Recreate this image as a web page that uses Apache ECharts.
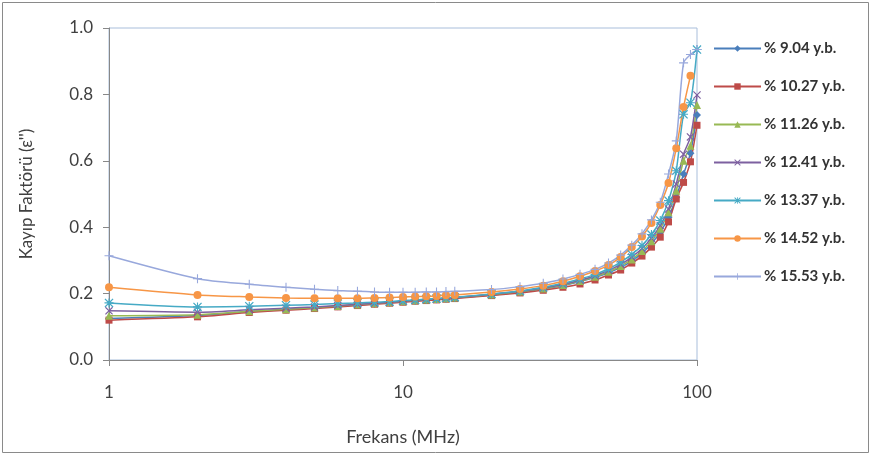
<!DOCTYPE html>
<html>
<head>
<meta charset="utf-8">
<script src="https://cdn.jsdelivr.net/npm/echarts@6/dist/echarts.min.js"></script>
<style>
  html, body { margin: 0; padding: 0; background: #fff; }
  #chart { width: 872px; height: 456px; }
</style>
</head>
<body>
<div id="chart"></div>
<script>
// frequency points (MHz)
var freq = [1,2,3,4,5,6,7,8,9,10,11,12,13,14,15,20,25,30,35,40,45,50,55,60,65,70,75,80,85,90,95,100];

var names = ['% 9.04 y.b.', '% 10.27 y.b.', '% 11.26 y.b.', '% 12.41 y.b.', '% 13.37 y.b.', '% 14.52 y.b.', '% 15.53 y.b.'];

var s904  = [0.125,0.134,0.146,0.152,0.157,0.162,0.166,0.170,0.173,0.176,0.179,0.181,0.183,0.185,0.187,0.196,0.205,0.214,0.224,0.236,0.249,0.263,0.279,0.298,0.322,0.350,0.385,0.430,0.490,0.560,0.623,0.738];
var s1027 = [0.120,0.130,0.143,0.150,0.155,0.160,0.164,0.168,0.171,0.174,0.177,0.179,0.181,0.183,0.185,0.194,0.202,0.210,0.219,0.229,0.241,0.256,0.271,0.292,0.313,0.340,0.370,0.416,0.485,0.535,0.597,0.707];
var s1126 = [0.133,0.136,0.147,0.153,0.158,0.163,0.167,0.171,0.174,0.177,0.180,0.182,0.184,0.186,0.188,0.197,0.206,0.215,0.226,0.238,0.251,0.266,0.283,0.303,0.328,0.358,0.395,0.445,0.510,0.600,0.645,0.768];
var s1241 = [0.148,0.144,0.151,0.156,0.160,0.164,0.168,0.171,0.174,0.177,0.180,0.182,0.184,0.186,0.188,0.198,0.207,0.217,0.228,0.240,0.254,0.270,0.288,0.310,0.336,0.367,0.405,0.455,0.530,0.620,0.672,0.798];
var s1337 = [0.172,0.160,0.162,0.165,0.167,0.170,0.172,0.174,0.176,0.179,0.181,0.183,0.185,0.187,0.189,0.199,0.208,0.219,0.231,0.244,0.258,0.275,0.295,0.318,0.345,0.378,0.420,0.480,0.570,0.740,0.775,0.935];
var s1452 = [0.219,0.196,0.190,0.187,0.186,0.186,0.186,0.187,0.188,0.190,0.191,0.192,0.193,0.195,0.196,0.205,0.214,0.224,0.237,0.252,0.268,0.286,0.310,0.340,0.372,0.413,0.467,0.533,0.638,0.762,0.856,null];
var s1553 = [0.314,0.245,0.228,0.219,0.213,0.209,0.207,0.205,0.204,0.204,0.204,0.205,0.205,0.206,0.207,0.212,0.221,0.231,0.244,0.258,0.273,0.292,0.316,0.346,0.380,0.422,0.475,0.560,0.660,0.895,0.920,0.935];

var allData = [s904, s1027, s1126, s1241, s1337, s1452, s1553];
var colors = ['#4a7ebb', '#be4b48', '#98b954', '#7d60a0', '#46aac5', '#f79646', '#98a8dc'];

var xPath = 'path://M0,1L1,0L5,4L9,0L10,1L6,5L10,9L9,10L5,6L1,10L0,9L4,5Z';
var plusPath = 'path://M4.4,0H5.6V4.4H10V5.6H5.6V10H4.4V5.6H0V4.4H4.4Z';
var starPath = 'path://M0,1L1,0L5,4L9,0L10,1L6,5L10,9L9,10L5,6L1,10L0,9L4,5Z M4.4,0H5.6V4.4H10V5.6H5.6V10H4.4V5.6H0V4.4H4.4Z';
var symbols = ['diamond', 'rect', 'triangle', xPath, starPath, 'circle', plusPath];
var sizes = [8, 7, 8, 8, 9, 8, 9];

var series = [];
for (var k = 0; k < allData.length; k++) {
    var pts = [];
    for (var i = 0; i < freq.length; i++) {
        if (allData[k][i] != null) pts.push([freq[i], allData[k][i]]);
    }
    series.push({
        name: names[k],
        type: 'line',
        smooth: 0.25,
        symbol: symbols[k],
        symbolSize: sizes[k],
        showAllSymbol: true,
        itemStyle: { color: colors[k] },
        lineStyle: { width: 1.5, color: colors[k] },
        data: pts
    });
}

var myChart = echarts.init(document.getElementById('chart'));
myChart.setOption({
    animation: false,
    textStyle: { fontFamily: 'Lato' },
    graphic: [{
        type: 'rect',
        shape: { x: 2.5, y: 2.5, width: 866, height: 450 },
        style: { fill: 'none', stroke: '#8a8a8a', lineWidth: 1 },
        z: -1
    }],
    legend: {
        orient: 'vertical',
        left: 708,
        top: 36,
        itemWidth: 47,
        itemHeight: 8,
        itemGap: 23,
        data: names,
        textStyle: { fontFamily: 'Lato', fontSize: 15, fontWeight: 'bold', color: '#333', padding: [0, 0, 0, -2] }
    },
    grid: {
        left: 109,
        top: 28,
        width: 588,
        height: 332,
        show: true,
        borderColor: '#a9bedb',
        borderWidth: 1
    },
    xAxis: {
        type: 'log',
        logBase: 10,
        min: 1,
        max: 100,
        name: 'Frekans (MHz)',
        nameLocation: 'middle',
        nameGap: 68,
        nameTextStyle: { fontFamily: 'Lato', fontSize: 18, color: '#404040' },
        axisLine: { show: true, lineStyle: { color: '#888', width: 1 } },
        axisTick: { show: true, length: 6, lineStyle: { color: '#888' } },
        axisLabel: { fontSize: 17, color: '#404040', margin: 24, fontFamily: 'Lato' },
        splitLine: { show: false },
        minorTick: { show: false }
    },
    yAxis: {
        type: 'value',
        min: 0,
        max: 1,
        interval: 0.2,
        name: "Kayıp Faktörü (ε'')",
        nameLocation: 'middle',
        nameGap: 74,
        nameTextStyle: { fontFamily: 'Lato', fontSize: 17, color: '#404040' },
        axisLine: { show: true, lineStyle: { color: '#888', width: 1 } },
        axisTick: { show: true, length: 6, lineStyle: { color: '#888' } },
        axisLabel: {
            fontSize: 17, color: '#404040', margin: 16, fontFamily: 'Lato',
            formatter: function (v) { return v.toFixed(1); }
        },
        splitLine: { show: false }
    },
    series: series
});
</script>
</body>
</html>
